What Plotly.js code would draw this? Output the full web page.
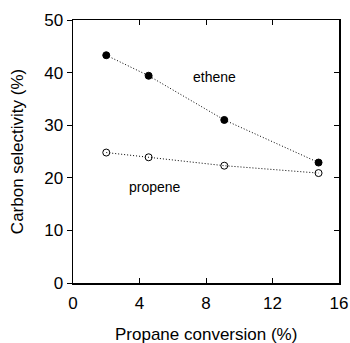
<!DOCTYPE html>
<html><head><meta charset="utf-8">
<script src="https://cdn.plot.ly/plotly-3.0.1.min.js"></script>
<style>body{margin:0;padding:0;background:#fff}#chart{width:350px;height:343px}</style>
</head><body><div id="chart"></div>
<script>
const conversion = [2.0, 4.55, 9.1, 14.77];
const ethene = [43.3, 39.4, 31.0, 22.9];
const propene = [24.8, 23.9, 22.3, 20.9];
const xTicks = [0, 4, 8, 12, 16];
const yTicks = [0, 10, 20, 30, 40, 50];
const seriesLabels = ["ethene", "propene"];
const xTitle = "Propane conversion (%)";
const yTitle = "Carbon selectivity (%)";

const font = {family: "Liberation Sans, Arial, sans-serif", color: "#000"};
const traces = [
  {x: conversion, y: ethene, mode: "lines+markers", type: "scatter",
   line: {color: "#000", width: 1, dash: "1px,2px"},
   marker: {symbol: "circle", size: 7, color: "#000", line: {color: "#000", width: 1}}},
  {x: conversion, y: propene, mode: "lines+markers", type: "scatter",
   line: {color: "#000", width: 1, dash: "1px,2px"},
   marker: {symbol: "circle-open", size: 7, color: "#000", line: {color: "#000", width: 1}}},
  {x: [], y: [], yaxis: "y2", showlegend: false}
];
const layout = {
  width: 350, height: 343, showlegend: false,
  margin: {l: 73, r: 11, t: 20, b: 60},
  paper_bgcolor: "#fff", plot_bgcolor: "#fff",
  font: Object.assign({size: 17}, font),
  xaxis: {range: [0, 16], tickvals: xTicks, ticktext: xTicks.map(String),
    ticks: "inside", ticklen: 5, tickwidth: 1, tickcolor: "#000",
    showline: true, linecolor: "#000", linewidth: 1.5, mirror: "ticks",
    showgrid: false, zeroline: false, tickfont: {size: 17}, ticklabelstandoff: 4},
  yaxis: {range: [0, 50], tickvals: yTicks, ticktext: yTicks.map(String),
    ticks: "outside", ticklen: 5, tickwidth: 1, tickcolor: "#000",
    showline: true, linecolor: "#000", linewidth: 1.5, mirror: true,
    showgrid: false, zeroline: false, tickfont: {size: 17},
    title: {text: yTitle, font: {size: 17}, standoff: 16}},
  yaxis2: {range: [0, 50], overlaying: "y", side: "right", tickvals: yTicks,
    ticks: "inside", ticklen: 5, tickwidth: 1, tickcolor: "#000",
    showticklabels: false, showgrid: false, zeroline: false, showline: false},
  annotations: [
    {x: 8.54, y: 39.2, text: seriesLabels[0], showarrow: false, font: {size: 14}},
    {x: 4.93, y: 18.2, text: seriesLabels[1], showarrow: false, font: {size: 14}},
    {xref: "paper", yref: "paper", x: 0.5, y: -0.194, yanchor: "middle",
     text: xTitle, showarrow: false, font: {size: 17}}
  ]
};
Plotly.newPlot("chart", traces, layout, {displayModeBar: false, staticPlot: true});
</script></body></html>
